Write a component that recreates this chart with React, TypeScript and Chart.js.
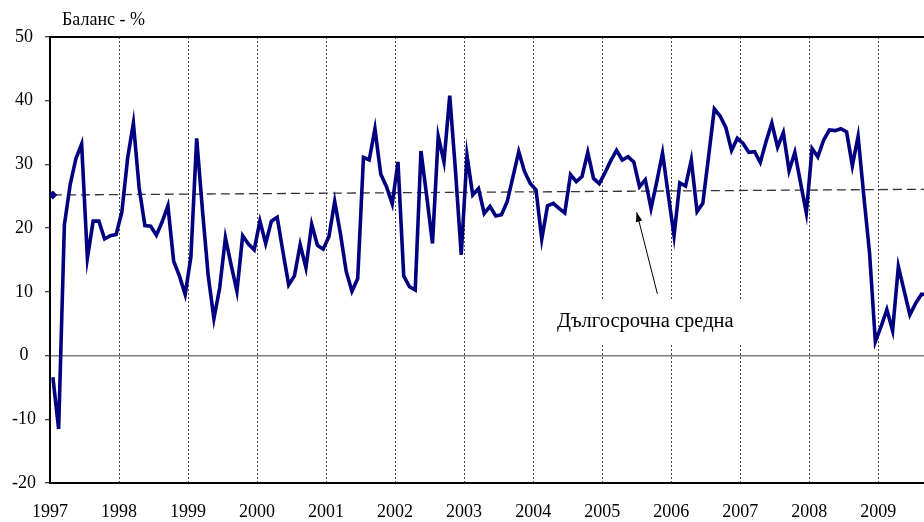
import React, { useEffect, useRef } from 'react';
import { Chart, registerables } from 'chart.js';

Chart.register(...registerables);

// Year tick labels (one tick every 12 months, starting January 1997)
const yearLabels = ['1997', '1998', '1999', '2000', '2001', '2002', '2003', '2004', '2005', '2006', '2007', '2008', '2009'];

// Monthly balance, % (Jan 1997 onward)
const balance1997 = [-3.4, -11.5, 20.5, 26.8, 30.9, 33.2, 15.3, 21.1, 21.1, 18.3, 18.8, 19.0];
const balance1998 = [22.6, 31.0, 36.5, 26.3, 20.4, 20.3, 18.9, 21.0, 23.5, 14.8, 12.5, 9.6];
const balance1999 = [15.5, 34.1, 22.9, 12.6, 5.8, 10.6, 18.5, 14.2, 10.1, 18.8, 17.5, 16.6];
const balance2000 = [21.1, 17.6, 21.1, 21.7, 16.3, 11.1, 12.5, 17.4, 13.8, 20.6, 17.3, 16.7];
const balance2001 = [18.7, 24.2, 19.1, 13.2, 10.1, 12.1, 31.1, 30.7, 35.6, 28.5, 26.5, 23.8];
const balance2002 = [30.4, 12.5, 10.8, 10.3, 32.1, 25.0, 17.6, 34.4, 30.4, 40.8, 29.0, 15.8];
const balance2003 = [31.4, 25.2, 26.2, 22.3, 23.4, 21.9, 22.1, 24.2, 28.1, 32.0, 28.9, 27.0];
const balance2004 = [26.0, 18.3, 23.5, 23.9, 23.1, 22.4, 28.4, 27.3, 28.1, 31.9, 27.8, 27.0];
const balance2005 = [28.7, 30.6, 32.2, 30.7, 31.2, 30.4, 26.5, 27.6, 23.1, 27.3, 31.8, 25.2];
const balance2006 = [18.8, 27.1, 26.6, 30.7, 22.6, 23.9, 31.2, 38.7, 37.6, 35.8, 32.2, 34.1];
const balance2007 = [33.3, 31.9, 32.0, 30.3, 33.6, 36.5, 32.7, 35.0, 29.0, 31.9, 27.1, 22.4];
const balance2008 = [32.5, 31.2, 33.8, 35.4, 35.3, 35.6, 35.1, 29.8, 34.4, 25.0, 16.0, 2.2];
const balance2009 = [4.6, 7.2, 3.9, 14.0, 10.2, 6.4, 8.2, 9.6, 9.6];

const balanceValues = [
  ...balance1997, ...balance1998, ...balance1999, ...balance2000, ...balance2001,
  ...balance2002, ...balance2003, ...balance2004, ...balance2005, ...balance2006,
  ...balance2007, ...balance2008, ...balance2009,
];

// Long-term average (dashed line): value at start and at right edge
const averageValues = [25.2, 26.1];

const annotationText = 'Дългосрочна средна';
const axisTitle = 'Баланс - %';

const X_MAX = 152.08;
const FONT = '"Liberation Serif", "Times New Roman", serif';

export default function App() {
  const canvasRef = useRef<HTMLCanvasElement | null>(null);

  useEffect(() => {
    if (!canvasRef.current) return;
    const lineData = balanceValues.map((v, i) => ({ x: i + 0.5, y: v }));
    const avgData = [
      { x: 0.5, y: averageValues[0] },
      { x: X_MAX, y: averageValues[1] },
    ];

    const decor = {
      id: 'decor',
      afterDatasetsDraw(chart: any) {
        const { ctx, chartArea, scales } = chart;
        const x = scales.x;
        const y = scales.y;
        ctx.save();
        // top border of plot
        ctx.strokeStyle = '#000';
        ctx.lineWidth = 2;
        ctx.beginPath();
        ctx.moveTo(chartArea.left - 1, chartArea.top);
        ctx.lineTo(chartArea.right + 2, chartArea.top);
        ctx.stroke();

        // axis title
        ctx.fillStyle = '#000';
        ctx.font = `18px ${FONT}`;
        ctx.textAlign = 'left';
        ctx.textBaseline = 'middle';
        ctx.fillText(axisTitle, chartArea.left + 12, chartArea.top - 17);

        // annotation box
        const bx1 = x.getPixelForValue(86.7);
        const bx2 = x.getPixelForValue(120.4);
        const by1 = y.getPixelForValue(8.7);
        const by2 = y.getPixelForValue(1.7);
        ctx.fillStyle = '#fff';
        ctx.fillRect(bx1, by1, bx2 - bx1, by2 - by1);
        ctx.fillStyle = '#000';
        ctx.textAlign = 'center';
        ctx.font = `20.5px ${FONT}`;
        ctx.fillText(annotationText, x.getPixelForValue(103.5), y.getPixelForValue(5.4));

        // arrow
        const tx = x.getPixelForValue(102.0);
        const ty = y.getPixelForValue(22.5);
        const sx = x.getPixelForValue(105.6);
        const sy = y.getPixelForValue(9.7);
        ctx.strokeStyle = '#000';
        ctx.lineWidth = 1;
        ctx.beginPath();
        ctx.moveTo(sx, sy);
        ctx.lineTo(tx, ty);
        ctx.stroke();
        const ang = Math.atan2(ty - sy, tx - sx);
        const len = 10;
        const half = 0.33;
        ctx.beginPath();
        ctx.moveTo(tx, ty);
        ctx.lineTo(tx - len * Math.cos(ang - half), ty - len * Math.sin(ang - half));
        ctx.lineTo(tx - len * Math.cos(ang + half), ty - len * Math.sin(ang + half));
        ctx.closePath();
        ctx.fill();
        ctx.restore();
      },
    };

    const chart = new Chart(canvasRef.current, {
      type: 'line',
      data: {
        datasets: [
          {
            label: 'Баланс',
            data: lineData,
            borderColor: '#000080',
            borderWidth: 3.6,
            pointRadius: 0,
            tension: 0,
            fill: false,
          },
          {
            label: annotationText,
            data: avgData,
            borderColor: '#333',
            borderWidth: 1.3,
            borderDash: [9, 5],
            pointRadius: [3.5, 0],
            pointStyle: 'rectRot',
            pointBackgroundColor: '#000080',
            pointBorderColor: '#000080',
            tension: 0,
            fill: false,
          },
        ],
      },
      options: {
        animation: false,
        responsive: true,
        maintainAspectRatio: false,
        layout: { padding: { top: 37, left: 0, right: 0, bottom: 0 } },
        plugins: {
          legend: { display: false },
          tooltip: { enabled: false },
          title: { display: false },
        },
        scales: {
          x: {
            type: 'linear',
            min: 0,
            max: X_MAX,
            afterFit: (s: any) => { s.height = 39; },
            afterBuildTicks: (s: any) => {
              s.ticks = yearLabels.map((_, i) => ({ value: i * 12 }));
            },
            ticks: {
              autoSkip: false,
              maxRotation: 0,
              color: '#000',
              font: { family: FONT, size: 18 },
              padding: 18,
              callback: (v: any) => yearLabels[Math.round(Number(v) / 12)] ?? '',
            },
            grid: {
              color: (c: any) => (c.tick && c.tick.value === 0 ? 'rgba(0,0,0,0)' : '#444'),
              lineWidth: 1,
              drawTicks: false,
            },
            border: { color: '#000', width: 2, dash: [2, 2] },
          },
          y: {
            min: -20,
            max: 50,
            afterFit: (s: any) => { s.width = 50; },
            ticks: {
              stepSize: 10,
              color: '#000',
              font: { family: FONT, size: 18 },
              padding: 9,
              crossAlign: 'center',
            },
            grid: {
              color: (c: any) => (c.tick && c.tick.value === 0 ? '#808080' : 'rgba(0,0,0,0)'),
              lineWidth: 1.5,
              tickColor: '#000',
              tickLength: 5,
              tickWidth: 1,
            },
            border: { color: '#000', width: 2 },
          },
        },
      },
      plugins: [decor],
    });
    return () => chart.destroy();
  }, []);

  return (
    <div style={{ position: 'absolute', left: 0, top: 0, width: 924, height: 522, background: '#fff', overflow: 'hidden' }}>
      <div style={{ position: 'relative', width: 930, height: 522 }}>
        <canvas ref={canvasRef} />
      </div>
    </div>
  );
}
